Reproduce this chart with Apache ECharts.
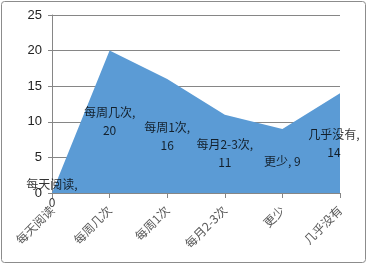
<!DOCTYPE html>
<html><head><meta charset="utf-8">
<script src="https://cdn.jsdelivr.net/npm/echarts@6/dist/echarts.min.js"></script>
<style>html,body{margin:0;padding:0;background:#fff}#c{width:367px;height:265px}</style>
</head><body><div id="c"></div>
<script>
const categories = ['每天阅读','每周几次','每周1次','每月2-3次','更少','几乎没有'];
const values = [0, 20, 16, 11, 9, 14];
const labelTexts = ['每天阅读,\n0','每周几次,\n20','每周1次,\n16','每月2-3次,\n11','更少, 9','几乎没有,\n14'];
const yTicks = [0, 5, 10, 15, 20, 25];

const chart = echarts.init(document.getElementById('c'), null, {renderer:'canvas'});
const font = '"Noto Sans CJK SC", "Liberation Sans", sans-serif';
chart.setOption({
  animation:false,
  graphic:[{type:'rect', shape:{x:1.5,y:1.5,width:364,height:261,r:3}, style:{fill:'none',stroke:'#8c8c8c',lineWidth:1}, z:-1}],
  grid:{left:52, right:27, top:15, bottom:72},
  xAxis:{type:'category', data:categories, boundaryGap:false,
    axisLine:{lineStyle:{color:'#868686'}},
    axisTick:{show:true, length:5, lineStyle:{color:'#868686'}},
    axisLabel:{rotate:45, fontSize:12, color:'#595959', fontFamily:font, margin:15}},
  yAxis:{type:'value', min:yTicks[0], max:yTicks[yTicks.length-1], interval:5,
    axisLine:{show:true, lineStyle:{color:'#868686'}},
    axisTick:{show:true, length:4, lineStyle:{color:'#868686'}},
    splitLine:{lineStyle:{color:'#868686'}},
    axisLabel:{fontSize:13, color:'#222', fontFamily:'"Liberation Sans", sans-serif', margin:10}},
  series:[
    {type:'line', data:values, symbol:'none', lineStyle:{width:0, color:'#5B9BD5'},
     areaStyle:{color:'#5B9BD5', opacity:1}, z:2},
    {type:'scatter', symbolSize:0, z:5,
     data:values.map((v,i)=>({value:[i, v/2], label:{offset: i===values.length-1?[-6,0]:[0,0]}})),
     label:{show:true, position:'inside', color:'#000', fontSize:12, lineHeight:18, fontFamily:font,
       formatter:p=>labelTexts[p.dataIndex]}}
  ]
});
</script></body></html>
